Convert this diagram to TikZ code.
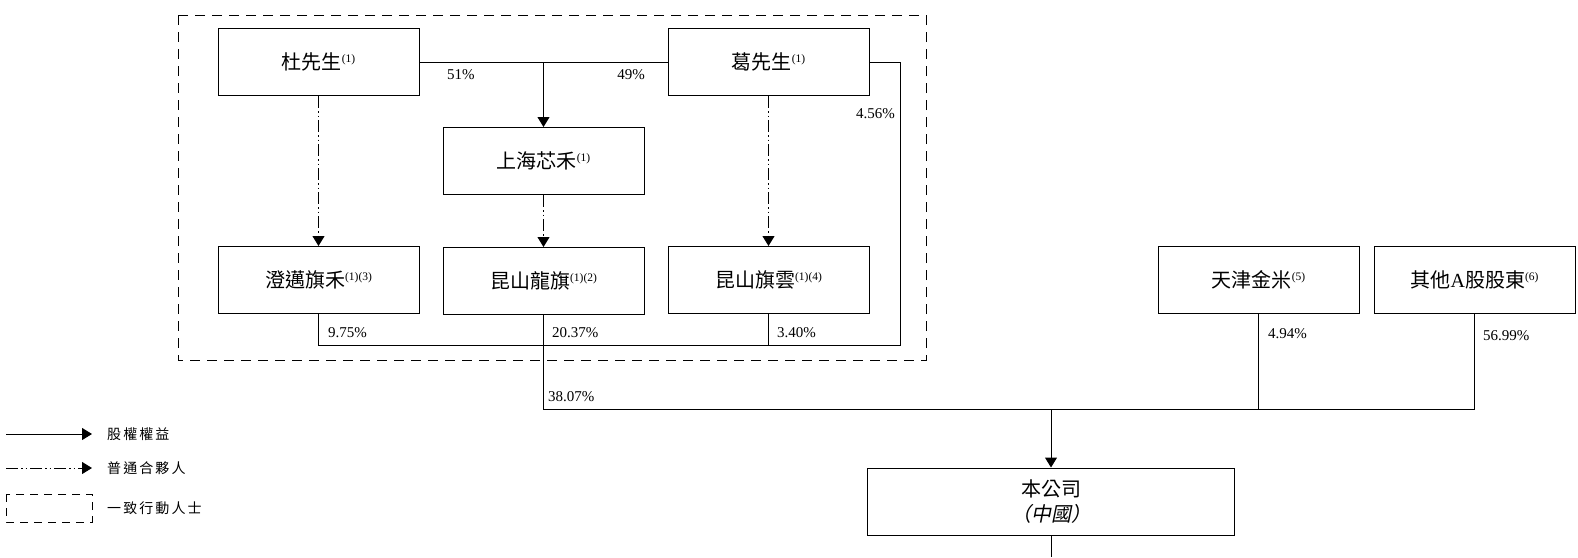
\documentclass[tikz,border=0pt]{standalone}
\usepackage{fontspec}
\setmainfont{Liberation Serif}
\newfontfamily\cjk{Noto Sans CJK TC}
\newfontfamily\cjkit[FakeSlant=0.2]{Noto Sans CJK TC}
\newfontfamily\cjkleg[LetterSpace=15]{Noto Sans CJK TC}
\usetikzlibrary{positioning,arrows.meta,calc}
\newcommand{\fn}[1]{\raisebox{7pt}{\rmfamily\fontsize{11.5}{12}\selectfont #1}}

\tikzset{
  holder/.style={draw, line width=1pt, minimum width=201pt, minimum height=67pt,
    inner sep=0pt, font=\cjk\fontsize{20}{25}\selectfont},
  pct/.style={inner sep=0pt, font=\fontsize{15}{18}\selectfont},
  own/.style={line width=1pt},
  gp/.style={line width=1pt, dash pattern=on 12pt off 3pt on 1.5pt off 3pt on 1.5pt off 3pt},
  concert/.style={line width=1pt, dash pattern=on 10pt off 7pt},
  legtext/.style={anchor=west, inner sep=0pt, font=\cjkleg\fontsize{14}{16}\selectfont}
}

\begin{document}
\begin{tikzpicture}[x=1pt,y=-1pt,>={Triangle[width=12pt,length=10pt]}]
\useasboundingbox (0,0) rectangle (1578,557);
% acting in concert
\draw[concert] (178,15) rectangle (926,360);

\node[holder] (du) at (318.5,62) {杜先生\fn{(1)}};
\node[holder] (ge) [right=248pt of du] {葛先生\fn{(1)}};
\coordinate (mid) at ($(du.south)!0.5!(ge.south)$);
\node[holder] (xh) [below=31pt of mid] {上海芯禾\fn{(1)}};
\node[holder] (cm) [below=150pt of du] {澄邁旗禾\fn{(1)(3)}};
\node[holder] (kl) [below=52pt of xh] {昆山龍旗\fn{(1)(2)}};
\node[holder] (ky) [below=150pt of ge] {昆山旗雲\fn{(1)(4)}};
\node[holder] (tj) [right=288pt of ky] {天津金米\fn{(5)}};
\node[holder] (qt) [right=14pt of tj] {其他{\rmfamily A}股股東\fn{(6)}};
\node[holder, minimum width=367pt, align=center] (gs) at (1051,501.5) {本公司\\{\cjkit （中國）}};

\coordinate (rt) at (900,345);
\coordinate (bus) at (1051,409);
\coordinate (cut) at (1051,557);

% equity
\draw[own] (du) -- (ge);
\draw[own,->] (mid |- du.east) -- (xh);
\draw[own] (ge.east) -| (rt) -- (cm.south |- rt) -- (cm.south);
\draw[own] (ky.south) -- (ky.south |- rt);
\draw[own] (kl.south) |- (qt.south |- bus) -- (qt.south);
\draw[own] (tj.south) -- (tj.south |- bus);
\draw[own,->] (bus) -- (gs);
\draw[own] (gs) -- (cut);
% general partner
\draw[gp,->] (du) -- (cm);
\draw[gp,->] (xh) -- (kl);
\draw[gp,->] (ge) -- (ky);

\node[pct, anchor=west] (p51) at (447,75) {51\%};
\node[pct, anchor=east] (p49) at (645,75) {49\%};
\node[pct, anchor=east] (p456) at (895,114) {4.56\%};
\node[pct, anchor=west] (p975) at (328,333) {9.75\%};
\node[pct, anchor=west] (p2037) at (552,333) {20.37\%};
\node[pct, anchor=west] (p340) at (777,333) {3.40\%};
\node[pct, anchor=west] (p3807) at (548,397) {38.07\%};
\node[pct, anchor=west] (p494) at (1268,334) {4.94\%};
\node[pct, anchor=west] (p5699) at (1483,336) {56.99\%};

% legend
\coordinate (la) at (6,434);
\coordinate (lb) at (92,434);
\draw[own,->] (la) -- (lb);
\node[legtext] (t1) at (107,434) {股權權益};
\coordinate (lc) at (6,468);
\coordinate (ld) at (92,468);
\draw[gp,->] (lc) -- (ld);
\node[legtext] (t2) at (107,468) {普通合夥人};
\draw[concert, dash pattern=on 8pt off 6pt] (6,494) rectangle (92,522);
\node[legtext] (t3) at (107,508) {一致行動人士};
\end{tikzpicture}
\end{document}
